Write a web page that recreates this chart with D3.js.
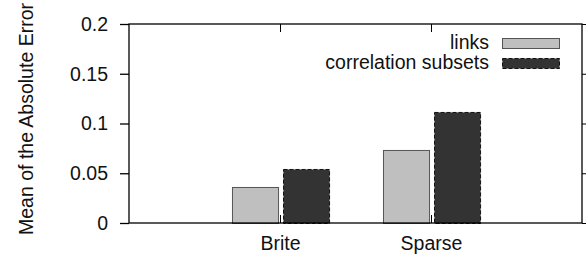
<!DOCTYPE html>
<html>
<head>
<meta charset="utf-8">
<script src="https://cdn.jsdelivr.net/npm/d3@7"></script>
<style>
  body { margin: 0; background: #fff; }
  text { font-family: "Liberation Sans", Arial, Helvetica, sans-serif; fill: #111; }
</style>
</head>
<body>
<div id="chart"></div>
<script>
// data
var categories = ["Brite", "Sparse"];
var seriesNames = ["links", "correlation subsets"];
var links = [0.0362, 0.0734];
var corrSubsets = [0.0543, 0.1116];
var yTicks = [0, 0.05, 0.1, 0.15, 0.2];

var width = 586, height = 256;
var m = { left: 129, right: 582, top: 24, bottom: 223 };
var fontSize = 19.5;

var svg = d3.select("#chart").append("svg")
    .attr("width", width)
    .attr("height", height);

var x = d3.scaleLinear().domain([-1, 2]).range([m.left, m.right]);
var y = d3.scaleLinear().domain([0, 0.2]).range([m.bottom, m.top]);

var series = [
  { name: seriesNames[0], values: links, fill: "#bfbfbf", stroke: "#555", dash: null, x0: -0.318, x1: -0.013 },
  { name: seriesNames[1], values: corrSubsets, fill: "#333333", stroke: "#111", dash: "4,2", x0: 0.02, x1: 0.325 }
];

// bars
series.forEach(function (s) {
  svg.append("g").selectAll("rect")
    .data(s.values)
    .enter().append("rect")
    .attr("x", function (d, i) { return x(i + s.x0) + 0.5; })
    .attr("y", function (d) { return y(d) + 0.5; })
    .attr("width", function (d, i) { return x(i + s.x1) - x(i + s.x0); })
    .attr("height", function (d) { return y(0) - y(d); })
    .attr("fill", s.fill)
    .attr("stroke", s.stroke)
    .attr("stroke-width", 1)
    .attr("stroke-dasharray", s.dash);
});

// y axis left (outward ticks)
var yAxis = d3.axisLeft(y).tickValues(yTicks).tickSize(9).tickPadding(12)
    .tickFormat(function (d) { return d === 0 ? "0" : String(d); });
var gy = svg.append("g").attr("transform", "translate(" + m.left + ",0)").call(yAxis);
gy.select(".domain").remove();
gy.selectAll("text").style("font-size", fontSize + "px").attr("fill", "#111");
gy.selectAll("line").attr("stroke", "#000").attr("stroke-width", 1.3);

// right ticks
var gyr = svg.append("g").attr("transform", "translate(" + m.right + ",0)")
    .call(d3.axisRight(y).tickValues(yTicks).tickSize(6).tickFormat(""));
gyr.select(".domain").remove();
gyr.selectAll("line").attr("stroke", "#000");

// x axis bottom (inward ticks)
var gx = svg.append("g").attr("transform", "translate(0," + m.bottom + ")")
    .call(d3.axisBottom(x).tickValues([0, 1]).tickSize(-8).tickPadding(14)
      .tickFormat(function (d) { return categories[d]; }));
gx.select(".domain").remove();
gx.selectAll("text").style("font-size", fontSize + "px").attr("fill", "#111").attr("y", 13).attr("dy", "0.71em");
gx.selectAll("line").attr("stroke", "#000");

// top ticks
var gxt = svg.append("g").attr("transform", "translate(0," + m.top + ")")
    .call(d3.axisTop(x).tickValues([0, 1]).tickSize(-8).tickFormat(""));
gxt.select(".domain").remove();
gxt.selectAll("line").attr("stroke", "#000");

// frame
svg.append("rect")
    .attr("x", m.left).attr("y", m.top)
    .attr("width", m.right - m.left).attr("height", m.bottom - m.top)
    .attr("fill", "none").attr("stroke", "#000").attr("stroke-width", 1.3);

// y label
svg.append("text")
    .attr("transform", "translate(33,119) rotate(-90)")
    .attr("text-anchor", "middle")
    .style("font-size", fontSize + "px")
    .text("Mean of the Absolute Error");

// legend
var legend = svg.append("g");
series.forEach(function (s, i) {
  var ly = 38 + i * 20;
  legend.append("rect")
    .attr("x", 502.5).attr("y", ly + 0.5)
    .attr("width", 57).attr("height", 10)
    .attr("fill", s.fill).attr("stroke", s.stroke)
    .attr("stroke-dasharray", s.dash);
  legend.append("text")
    .attr("x", 489).attr("y", ly + 11)
    .attr("text-anchor", "end")
    .style("font-size", fontSize + "px")
    .text(s.name);
});
</script>
</body>
</html>
